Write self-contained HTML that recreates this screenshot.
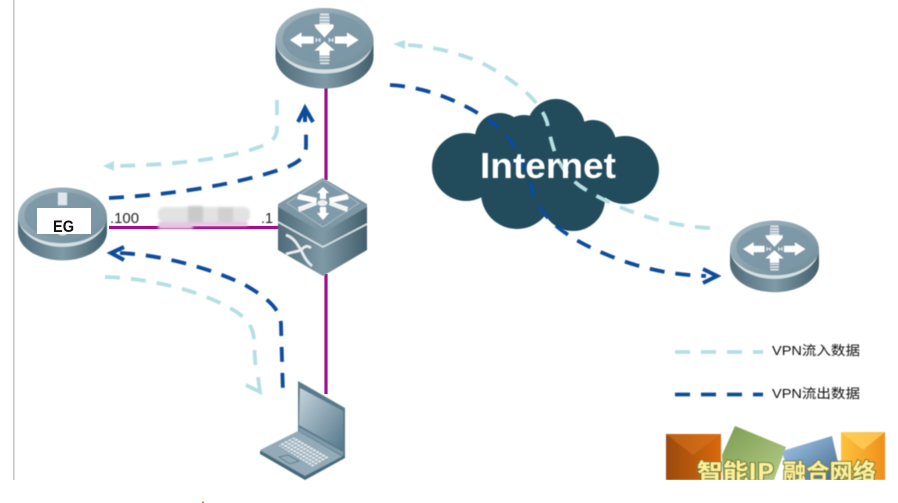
<!DOCTYPE html>
<html><head><meta charset="utf-8"><style>
html,body{margin:0;padding:0;background:#fff;width:898px;height:503px;overflow:hidden}
svg{display:block;font-family:"Liberation Sans","Noto Sans CJK SC",sans-serif}
</style></head><body>
<svg width="898" height="503" viewBox="0 0 898 503" xmlns="http://www.w3.org/2000/svg">
<defs>
<linearGradient id="side" x1="0" x2="1" y1="0" y2="0">
<stop offset="0" stop-color="#4f6b79"/><stop offset=".5" stop-color="#7f9aa6"/><stop offset="1" stop-color="#435f6c"/></linearGradient>
<linearGradient id="top" x1="0" x2="1" y1="0" y2="1">
<stop offset="0" stop-color="#a3b8c2"/><stop offset="1" stop-color="#6d8a98"/></linearGradient>
<linearGradient id="in" x1="0" x2="1" y1="0" y2="1">
<stop offset="0" stop-color="#809aa8"/><stop offset="1" stop-color="#7a96a4"/></linearGradient>
<linearGradient id="lid" x1="0" x2="1" y1="0" y2="1">
<stop offset="0" stop-color="#c5d4dd"/><stop offset="1" stop-color="#56788a"/></linearGradient>
<linearGradient id="or1" x1="0" x2="1" y1="0" y2="0"><stop offset="0" stop-color="#9a4a0e"/><stop offset="1" stop-color="#d9690f"/></linearGradient>
<linearGradient id="or2" x1="0" x2="1" y1="0" y2="0"><stop offset="0" stop-color="#ffc23c"/><stop offset="1" stop-color="#f08f1c"/></linearGradient>
<linearGradient id="gr" x1="0" x2="1" y1="0" y2="1"><stop offset="0" stop-color="#7c9b52"/><stop offset="1" stop-color="#b4cd86"/></linearGradient>
<linearGradient id="bl" x1="0" x2="1" y1="0" y2="1"><stop offset="0" stop-color="#a8caee"/><stop offset="1" stop-color="#3f6788"/></linearGradient>
<pattern id="keys" width="3.500" height="3.500" patternUnits="userSpaceOnUse" patternTransform="rotate(30) skewX(-30)">
<rect width="3.500" height="3.500" fill="#8da6b3"/><rect x=".6" y=".6" width="2.500" height="2.500" fill="#e2e9ec"/></pattern>
<filter id="soft" x="-5%" y="-5%" width="110%" height="110%"><feGaussianBlur stdDeviation="0.45"/></filter>
<filter id="soft2" x="-10%" y="-30%" width="120%" height="160%"><feGaussianBlur stdDeviation="1.2"/></filter>
<g id="base">
<path d="M0 32 V48 C0 66 22 80 49 80 C76 80 98 66 98 48 V32 Z" fill="url(#side)"/>
<ellipse cx="49" cy="32" rx="49" ry="32.500" fill="url(#top)"/>
<path d="M2 40 C8 55 27 65 49 65 C71 65 90 55 96 40 C88 53 71 61 49 61 C27 61 10 53 2 40Z" fill="#d4e0e5"/>
<ellipse cx="49" cy="30" rx="42" ry="25.500" fill="url(#in)"/>
</g>
<g id="router">
<use href="#base"/>
<g fill="#fff">
<path d="M14.500 31.500 L26 24 V28 H38 V35 H26 V39 Z"/>
<path d="M83 31.500 L71.500 24 V28 H59.500 V35 H71.500 V39 Z"/>
<path d="M39 16 H58 L58 19 L49 29 L40 19 Z"/>
<path d="M49 33 L59 42 H54 V47 H44 V42 H39 Z"/>
<path d="M44.500 5 h9 v2 h-9z M44 8 h10 v2 h-10z M44 11 h10 v2 h-10z M44 14 h10 v2 h-10z M44 48 h10 v1.600 h-10z M44 51 h10 v1.600 h-10z M44.500 54 h9 v1.600 h-9z" opacity=".75"/>
<path d="M40 29 l3 2.500 l-3 2.500z M45 29 l-3 2.500 l3 2.500z M58 29 l-3 2.500 l3 2.500z M53 29 l3 2.500 l-3 2.500z" opacity=".7"/>
</g>
</g>
</defs>

<rect x="13" y="0" width="1.600" height="480" fill="#c9c9c9"/>
<rect x="202" y="501.500" width="2" height="1.500" fill="#b98a5a"/>

<!-- links -->
<g stroke="#a0108c" stroke-width="3.200" fill="none">
<path d="M326 85 V180"/><path d="M109 227.500 H280"/><path d="M326 274 V394"/>
</g>
<!-- redaction blur -->
<g filter="url(#soft2)">
<rect x="158" y="207" width="92" height="15" rx="6" fill="#e2e2e2"/>
<rect x="188" y="206" width="15" height="16" fill="#c9c9c9"/>
<rect x="218" y="207" width="15" height="15" fill="#d0d0d0"/>
<rect x="158" y="222" width="90" height="4" rx="2" fill="#e9c5e2"/>
<rect x="158" y="226" width="35" height="3" rx="1.500" fill="#e9c5e2"/>
</g>

<!-- cloud -->
<g fill="#224b5b" filter="url(#soft)">
<circle cx="466" cy="167" r="34"/><circle cx="517" cy="193" r="36"/><circle cx="573" cy="199" r="32"/>
<circle cx="625" cy="170" r="34"/><circle cx="556" cy="128" r="29"/><circle cx="593" cy="143" r="23"/>
<circle cx="500" cy="138" r="25"/><circle cx="524" cy="140" r="25"/><rect x="495" y="130" width="105" height="75"/>
</g>

<!-- dashed flows -->
<g fill="none" stroke-width="3.800" filter="url(#soft)">
<g stroke="#b5dfe3" stroke-dasharray="15 11">
<path d="M277 100 V128 C277 136 274 141 262 146 C225 160 170 165 114 166"/>
<path d="M105 277 C150 278 200 291 230 308 C248 318 254 328 254 342 L256 375"/>
<path d="M710 228 C660 226 610 206 580 186 C556 168 552 145 547 122 C540 100 515 80 480 62 C455 52 435 47 408 45"/>
<path d="M675 352 H763"/>
</g>
<g stroke="#0b4c9b" stroke-dasharray="15 11">
<path d="M109 198 C170 195 235 185 285 168 C300 162 306 156 306 146 V128"/>
<path d="M120 253 C165 255 215 270 245 285 C268 298 281 310 281 325 L283 395"/>
<path d="M390 85 C430 87 470 105 498 127 C518 145 528 172 534 197 C545 222 570 240 610 256 C640 268 670 275 706 276"/>
<path d="M675 394.500 H763"/>
</g>
<path d="M103 166 L114 161 V171 Z" fill="#b5dfe3" stroke="none"/>
<path d="M258 377 L260 392 L246 385" stroke="#b5dfe3"/>
<path d="M393 44 L405 40 V49 Z" fill="#b5dfe3" stroke="none"/>
<path d="M298 122 L305 108 L313 122 M305 108 V122" stroke="#0b4c9b" stroke-width="4"/>
<path d="M124 247 L111 253 L124 260" stroke="#0b4c9b" stroke-width="4"/>
<path d="M703 269 L717 276 L703 283" stroke="#0b4c9b" stroke-width="4"/>
</g>

<text x="480" y="178" font-size="36" font-weight="700" fill="#fff" textLength="136" lengthAdjust="spacingAndGlyphs" filter="url(#soft)">Internet</text>

<!-- routers -->
<use href="#router" x="275.500" y="8.500" filter="url(#soft)"/>
<g filter="url(#soft)" transform="translate(730 221) scale(.908 .89)"><use href="#router"/></g>

<!-- EG -->
<g filter="url(#soft)" transform="translate(18 188) scale(.908 .905)">
<use href="#base"/>
<rect x="44" y="5" width="10" height="14" fill="#dfe7ea"/>
<ellipse cx="49" cy="50" rx="5" ry="2.500" fill="#d5dfe3"/>
</g>
<rect x="37" y="208" width="54" height="26" fill="#fff"/>
<text x="53" y="232" font-size="17" font-weight="700" fill="#111" textLength="21" lengthAdjust="spacingAndGlyphs">EG</text>

<g filter="url(#soft)">
<text x="110" y="223" font-size="15" fill="#222" textLength="29" lengthAdjust="spacingAndGlyphs">.100</text>
<text x="261" y="223" font-size="15" fill="#222" textLength="12" lengthAdjust="spacingAndGlyphs">.1</text>
</g>

<!-- switch -->
<g filter="url(#soft)">
<path d="M278 204 V250 L323 276 L367 250 V204 Z" fill="url(#side)"/>
<path d="M323 178 L367 204 V207 L323 233 L278 207 V204 Z" fill="#7d97a4"/>
<path d="M323 180 L359 203 L323 227 L287 203 Z" fill="#7f9aa8" stroke="#a7bbc4"/>
<path d="M278 222 L323 247 L367 224" fill="none" stroke="#d5e1e5" stroke-width="1.600"/>
<g fill="#fff">
<path d="M299 194 L317 198 L316 203 L297 199Z"/>
<path d="M347 194 L329 198 L330 203 L349 199Z"/>
<path d="M299 212 L317 205 L316 201 L298 207Z" opacity=".9"/>
<path d="M347 212 L329 205 L330 201 L348 207Z" opacity=".9"/>
<path d="M323 187 L329 193 H326 V199 H320 V193 H317Z"/>
<path d="M323 220 L329 213 H326 V207 H320 V213 H317Z"/>
<ellipse cx="322.500" cy="203" rx="5" ry="3" opacity=".85"/>
</g>
<path d="M286 235 C295 238 298 246 301 250 C305 246 307 245 311 248 M286 254 C292 252 296 252 301 250 C304 256 306 261 312 266" fill="none" stroke="#e8eef1" stroke-width="2.600"/>
</g>

<!-- laptop -->
<g filter="url(#soft)">
<path d="M298 381 L345 408 V457 L305 479 L260 451 L298 432 Z" fill="#587a8a"/>
<path d="M300 388 L343 411 V450 L299 425 Z" fill="url(#lid)"/>
<path d="M299 427 L343 452 V456 L299 431Z" fill="#7f9aa8"/>
<path d="M260 450 L298 431 L343 457 L305 476 Z" fill="#93abb8"/>
<path d="M260 451 V454 L305 480 L345 458 V455 L305 476 Z" fill="#47697a"/>
<path d="M278 445 L295 437 L330 457 L313 467 Z" fill="url(#keys)"/>
<path d="M279 457 L288 455 L299 461 L290 464Z" fill="none" stroke="#5e7f8e" stroke-width="1"/>
</g>

<!-- legend -->
<g filter="url(#soft)">
<text x="772" y="355" font-size="13" fill="#111" textLength="88" lengthAdjust="spacingAndGlyphs">VPN流入数据</text>
<text x="772" y="398" font-size="13" fill="#111" textLength="88" lengthAdjust="spacingAndGlyphs">VPN流出数据</text>
</g>

<!-- logo -->
<g filter="url(#soft)">
<path d="M735 426 L786 447 L774 480 L723 480 L722 455 Z" fill="url(#gr)"/>
<path d="M782 451 L832 436 L842 480 L790 480 Z" fill="url(#bl)"/>
<path d="M666 434 H721 V480 H666 Z" fill="url(#or1)"/>
<path d="M841 432 H885 V480 H841 Z" fill="url(#or2)"/>
<path d="M666 434 L693 455 L721 434Z" fill="#d9731f" opacity=".55"/>
<path d="M841 432 L863 450 L885 432Z" fill="#ffd35c" opacity=".7"/>
</g>
<g font-size="23" font-weight="700" fill="#fff09a" stroke="#6f7d3a" stroke-width="2" paint-order="stroke" filter="url(#soft)">
<text x="697" y="480" textLength="77" lengthAdjust="spacingAndGlyphs" style="font-family:'Noto Sans CJK SC',sans-serif">智能IP</text>
<text x="783" y="480" textLength="93" lengthAdjust="spacingAndGlyphs" style="font-family:'Noto Sans CJK SC',sans-serif">融合网络</text>
</g>
<rect x="660" y="480" width="238" height="23" fill="#fff"/>
</svg>
</body></html>
